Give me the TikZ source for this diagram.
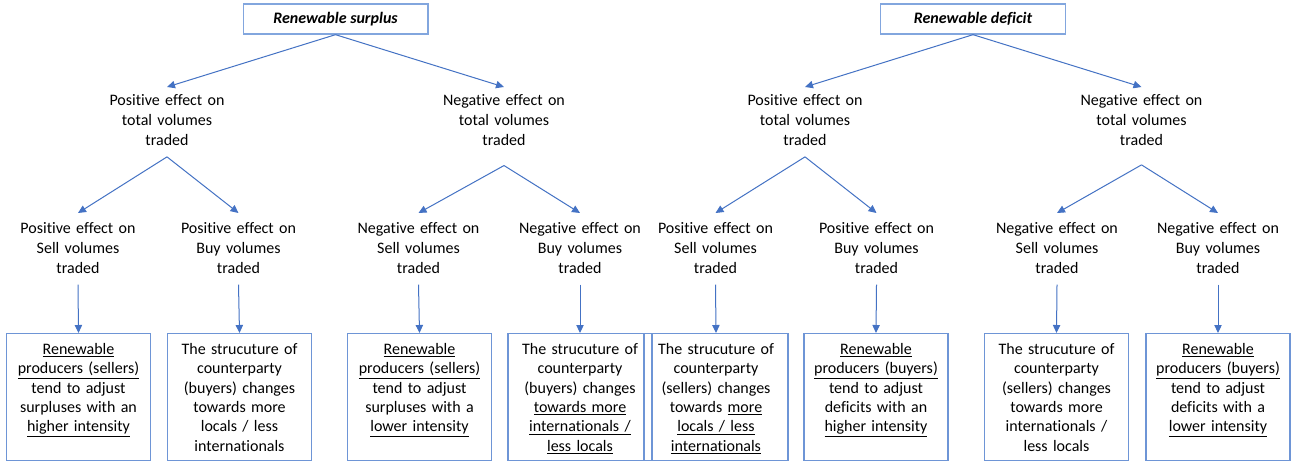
\documentclass[tikz,border=0pt]{standalone}
\usepackage{fontspec}
\setmainfont[Ligatures=NoCommon]{Carlito}
\usetikzlibrary{arrows.meta}
\definecolor{arrc}{RGB}{68,114,196}
\definecolor{boxc}{RGB}{110,149,214}
\definecolor{topc}{RGB}{130,166,222}
\begin{document}
\begin{tikzpicture}[x=0.75pt,y=-0.75pt,
  arr/.style={draw=arrc,line width=0.75pt,-{Triangle[length=6pt,width=5.5pt]}},
  topbox/.style={draw=topc,line width=1pt,minimum width=138.5pt,minimum height=22.5pt,inner sep=0pt,font=\fontsize{12}{14.6}\selectfont\bfseries\itshape},
  lbl/.style={anchor=north,align=center,text width=110pt,inner xsep=0pt,inner ysep=5pt,text height=9pt,text depth=33pt,font=\fontsize{12}{15}\selectfont},
  lbltwo/.style={lbl,inner ysep=6.4pt},
  rbox/.style={draw=boxc,line width=1pt,anchor=north,align=center,text width=100pt,inner xsep=4pt,inner ysep=6.4pt,text height=9pt,text depth=73.5pt,font=\fontsize{12}{14.55}\selectfont}]
\useasboundingbox[fill=white] (0,0) rectangle (1301,465);
% top boxes
\node[topbox] (RS) at (335.5,19) {Renewable surplus};
\node[topbox] (RD) at (973,19) {Renewable deficit};
% level 1
\node[lbl] (SP) at (167,87) {Positive effect on\\total volumes\\traded};
\node[lbl] (SN) at (504,87) {Negative effect on\\total volumes\\traded};
\node[lbl] (DP) at (805,87) {Positive effect on\\total volumes\\traded};
\node[lbl] (DN) at (1141.5,87) {Negative effect on\\total volumes\\traded};
% level 2
\node[lbltwo] (SPS) at (78,213) {Positive effect on\\Sell volumes\\traded};
\node[lbltwo] (SPB) at (238.5,213) {Positive effect on\\Buy volumes\\traded};
\node[lbltwo] (SNS) at (418.5,213) {Negative effect on\\Sell volumes\\traded};
\node[lbltwo] (SNB) at (580,213) {Negative effect on\\Buy volumes\\traded};
\node[lbltwo] (DPS) at (715.5,213) {Positive effect on\\Sell volumes\\traded};
\node[lbltwo] (DPB) at (876.5,213) {Positive effect on\\Buy volumes\\traded};
\node[lbltwo] (DNS) at (1057,213) {Negative effect on\\Sell volumes\\traded};
\node[lbltwo] (DNB) at (1218,213) {Negative effect on\\Buy volumes\\traded};
% bottom boxes
\node[rbox] (B1) at (78.5,333) {\underline{Renewable}\\\underline{producers (sellers)}\\tend to adjust\\surpluses with an\\\underline{higher intensity}};
\node[rbox] (B2) at (239.5,333) {The strucuture of\\counterparty\\(buyers) changes\\towards more\\locals / less\\internationals};
\node[rbox] (B3) at (419.5,333) {\underline{Renewable}\\\underline{producers (sellers)}\\tend to adjust\\surpluses with a\\\underline{lower intensity}};
\node[rbox] (B4) at (580,333) {The strucuture of\\counterparty\\(buyers) changes\\\underline{towards more}\\\underline{internationals /}\\\underline{less locals}};
\node[rbox] (B5) at (716,333) {The strucuture of\\counterparty\\(sellers) changes\\towards \underline{more}\\\underline{locals / less}\\\underline{internationals}};
\node[rbox] (B6) at (876,333) {\underline{Renewable}\\\underline{producers (buyers)}\\tend to adjust\\deficits with an\\\underline{higher intensity}};
\node[rbox] (B7) at (1056.5,333) {The strucuture of\\counterparty\\(sellers) changes\\towards more\\internationals /\\less locals};
\node[rbox] (B8) at (1218,333) {\underline{Renewable}\\\underline{producers (buyers)}\\tend to adjust\\deficits with a\\\underline{lower intensity}};
% connectors
\draw[arr] (RS.south) -- (SP.north);
\draw[arr] (RS.south) -- (SN.north);
\draw[arr] (RD.south) -- (DP.north);
\draw[arr] (RD.south) -- (DN.north);
\draw[arr] (SP.south) -- (SPS.north);
\draw[arr] (SP.south) -- (SPB.north);
\draw[arr] ([yshift=-6.5pt]SN.south) -- (SNS.north);
\draw[arr] ([yshift=-6.5pt]SN.south) -- (SNB.north);
\draw[arr] (DP.south) -- (DPS.north);
\draw[arr] (DP.south) -- (DPB.north);
\draw[arr] ([yshift=-6pt]DN.south) -- (DNS.north);
\draw[arr] ([yshift=-6pt]DN.south) -- (DNB.north);
\draw[arr] ([yshift=1.5pt]SPS.south) -- (B1.north);
\draw[arr] ([yshift=1.5pt]SPB.south) -- (B2.north);
\draw[arr] ([yshift=1.5pt]SNS.south) -- (B3.north);
\draw[arr] ([yshift=1.5pt]SNB.south) -- (B4.north);
\draw[arr] ([yshift=1.5pt]DPS.south) -- (B5.north);
\draw[arr] ([yshift=1.5pt]DPB.south) -- (B6.north);
\draw[arr] ([yshift=1.5pt]DNS.south) -- (B7.north);
\draw[arr] ([yshift=1.5pt]DNB.south) -- (B8.north);
\end{tikzpicture}
\end{document}
